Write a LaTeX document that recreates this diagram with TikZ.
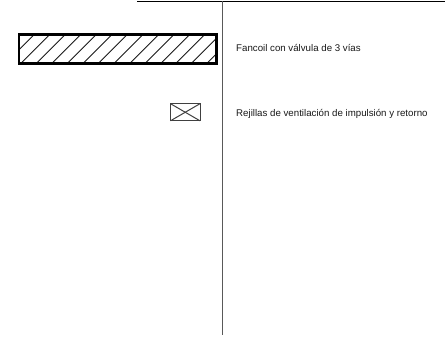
\documentclass[tikz,border=0pt]{standalone}
\usepackage{fontspec}
\setmainfont{Liberation Sans}
\tikzset{
  frameline/.style={line width=1pt,draw=black!65},
  topline/.style={line width=0.9pt,draw=black},
  hatchline/.style={line width=0.8pt,draw=black!90},
  fancoil/.style={line width=2.6pt,draw=black},
  grille/.style={line width=1pt,draw=black!75},
  legend/.style={anchor=west,inner sep=0pt,font=\fontsize{9.7}{11}\selectfont,text=black!90}
}
\begin{document}
\begin{tikzpicture}[x=1pt,y=-1pt]
\useasboundingbox (0,0) rectangle (445,338);
\fill[white] (0,0) rectangle (445,338);
\draw[topline] (137,1) -- (445,1);
\draw[frameline] (222.5,1) -- (222.5,335);
% hatching of the fancoil
\begin{scope}
\clip (18,34) rectangle (217,64);
\foreach \b in {6.3,21.7,37.3,52.7,68.3,84,99.3,115,130.7,146,161.7,176.7,192.3,207.7}
  \draw[hatchline] (\b,62.5) -- ++(27,-27);
\end{scope}
\draw[fancoil] (18.8,34.3) rectangle (216.7,63.7);
% grille
\draw[grille] (170.5,103.7) rectangle (200,120.8);
\draw[grille] (170.5,103.7) -- (200,120.8);
\draw[grille] (170.5,120.8) -- (200,103.7);
\node[legend] (fancoil) at (236,47.5) {Fancoil con válvula de 3 vías};
\node[legend] (rejillas) at (236,113.5) {Rejillas de ventilación de impulsión y retorno};
\end{tikzpicture}
\end{document}
